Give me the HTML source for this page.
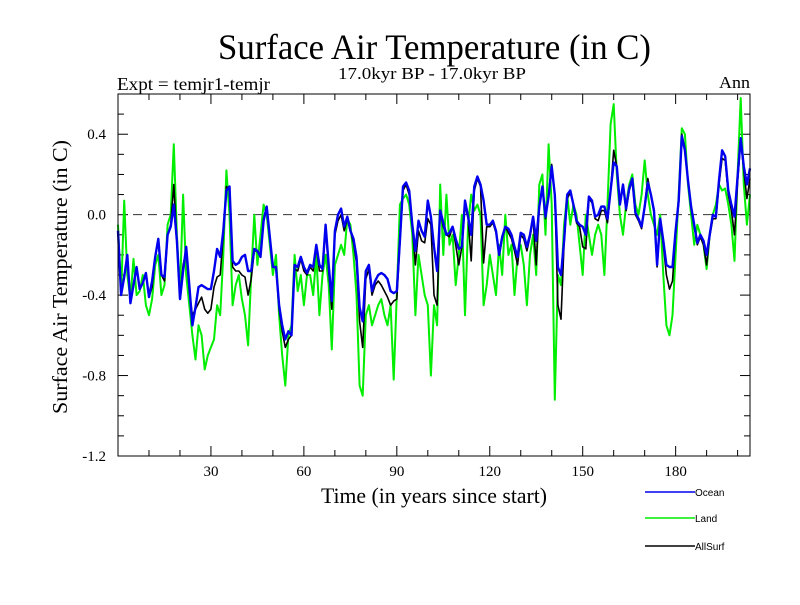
<!DOCTYPE html>
<html><head><meta charset="utf-8"><style>
body{margin:0;background:#fff;width:800px;height:600px;overflow:hidden}
svg text{font-family:"Liberation Serif",serif}
</style></head><body>
<svg id="chart" width="800" height="600" xmlns="http://www.w3.org/2000/svg">
<text x="218" y="59" font-size="36" textLength="433" lengthAdjust="spacingAndGlyphs">Surface Air Temperature (in C)</text>
<text x="338" y="79" font-size="17" textLength="188" lengthAdjust="spacingAndGlyphs">17.0kyr BP - 17.0kyr BP</text>
<text x="117" y="90" font-size="18" textLength="153" lengthAdjust="spacingAndGlyphs">Expt = temjr1-temjr</text>
<text x="719" y="88" font-size="17" textLength="31" lengthAdjust="spacingAndGlyphs">Ann</text>
<text transform="translate(67,277) rotate(-90)" font-size="21" text-anchor="middle" textLength="274" lengthAdjust="spacingAndGlyphs">Surface Air Temperature (in C)</text>
<text x="321" y="503" font-size="22" textLength="226" lengthAdjust="spacingAndGlyphs">Time (in years since start)</text>
<g id="axes"></g>
<g id="series"></g>
<rect x="118" y="94" width="632" height="362" fill="none" stroke="#000" stroke-width="1"/>
<g id="legend"></g>
</svg>
<script>
const yTicks=[0.4,0.0,-0.4,-0.8,-1.2];
const yTickLabels=["0.4","0.0","-0.4","-0.8","-1.2"];
const xTicks=[30,60,90,120,150,180];
const oceanValues=[-0.08,-0.40,-0.31,-0.20,-0.44,-0.35,-0.26,-0.37,-0.34,-0.29,-0.41,-0.33,-0.21,-0.12,-0.30,-0.31,-0.10,-0.06,0.05,-0.13,-0.42,-0.28,-0.16,-0.35,-0.55,-0.46,-0.36,-0.35,-0.36,-0.37,-0.37,-0.28,-0.17,-0.21,-0.08,0.12,0.14,-0.23,-0.25,-0.24,-0.21,-0.20,-0.28,-0.28,-0.17,-0.18,-0.21,-0.03,0.04,-0.11,-0.26,-0.26,-0.45,-0.55,-0.62,-0.58,-0.60,-0.25,-0.26,-0.21,-0.26,-0.29,-0.25,-0.26,-0.15,-0.25,-0.27,-0.05,-0.25,-0.43,-0.08,0.00,0.03,-0.06,-0.01,-0.08,-0.12,-0.21,-0.46,-0.53,-0.28,-0.25,-0.38,-0.33,-0.30,-0.29,-0.30,-0.32,-0.38,-0.39,-0.38,-0.13,0.14,0.16,0.12,-0.05,-0.18,-0.03,-0.08,-0.11,0.07,-0.01,-0.16,-0.28,0.02,-0.04,-0.10,-0.09,-0.06,-0.12,-0.17,-0.16,0.07,-0.01,-0.10,0.14,0.19,0.15,0.07,-0.05,-0.05,-0.03,-0.08,-0.20,-0.11,-0.06,-0.07,-0.10,-0.16,-0.21,-0.09,-0.10,-0.16,-0.10,-0.01,-0.13,0.04,0.14,-0.01,0.09,0.24,0.10,-0.26,-0.30,-0.13,0.10,0.12,0.05,-0.03,-0.05,-0.06,-0.10,0.09,0.07,-0.01,0.00,0.04,0.04,-0.02,0.12,0.26,0.24,0.05,0.15,0.03,0.13,0.18,0.01,-0.02,-0.06,0.04,0.16,0.10,0.02,-0.25,-0.02,-0.13,-0.25,-0.26,-0.26,-0.08,0.07,0.39,0.32,0.17,0.04,-0.05,-0.14,-0.10,-0.13,-0.20,-0.10,0.00,-0.01,0.17,0.32,0.29,0.12,0.05,-0.01,0.19,0.38,0.24,0.15,0.23];
const landValues=[-0.05,-0.4,0.07,-0.3,-0.42,-0.22,-0.4,-0.38,-0.3,-0.45,-0.5,-0.42,-0.25,-0.2,-0.4,-0.35,-0.05,0.0,0.35,-0.1,-0.38,0.1,-0.3,-0.45,-0.6,-0.72,-0.55,-0.6,-0.77,-0.7,-0.66,-0.62,-0.45,-0.5,-0.2,0.22,0.0,-0.45,-0.35,-0.3,-0.42,-0.5,-0.65,-0.3,0.0,-0.25,-0.1,0.05,0.0,-0.15,-0.3,-0.2,-0.5,-0.7,-0.85,-0.6,-0.55,-0.2,-0.38,-0.3,-0.45,-0.3,-0.3,-0.4,-0.2,-0.5,-0.3,-0.2,-0.35,-0.67,-0.25,-0.2,-0.15,-0.2,-0.02,-0.05,-0.2,-0.4,-0.85,-0.9,-0.5,-0.45,-0.55,-0.5,-0.45,-0.42,-0.5,-0.55,-0.45,-0.82,-0.4,0.05,0.08,0.1,0.05,-0.1,-0.5,-0.2,-0.3,-0.4,-0.45,-0.8,-0.45,-0.55,0.15,-0.2,0.1,-0.15,-0.1,-0.35,-0.2,0.0,-0.5,-0.05,0.1,0.02,0.05,0.0,-0.45,-0.35,-0.2,-0.3,-0.4,-0.15,-0.3,0.0,-0.2,-0.15,-0.4,-0.2,-0.15,-0.25,-0.45,-0.2,-0.1,-0.3,0.15,0.2,-0.1,0.35,0.05,-0.92,-0.3,-0.35,-0.05,0.1,-0.05,0.05,0.0,-0.15,-0.3,0.0,-0.1,-0.2,-0.1,-0.05,-0.1,-0.3,0.05,0.45,0.55,0.2,0.0,-0.1,0.05,0.15,0.2,0.05,0.0,0.1,0.27,0.1,0.0,-0.05,-0.1,0.0,-0.3,-0.55,-0.6,-0.5,-0.2,0.1,0.43,0.4,0.15,0.0,-0.15,-0.05,-0.1,-0.15,-0.27,-0.1,0.0,0.05,0.15,0.12,0.13,0.05,-0.05,-0.23,0.2,0.58,0.15,-0.05,0.1];
const allSurfValues=[-0.08,-0.40,-0.31,-0.20,-0.44,-0.35,-0.26,-0.37,-0.34,-0.29,-0.41,-0.36,-0.21,-0.13,-0.30,-0.33,-0.10,-0.05,0.15,-0.13,-0.42,-0.25,-0.18,-0.38,-0.50,-0.47,-0.44,-0.41,-0.47,-0.49,-0.47,-0.36,-0.31,-0.30,-0.10,0.14,0.12,-0.26,-0.28,-0.28,-0.30,-0.31,-0.40,-0.32,-0.18,-0.18,-0.20,-0.02,0.04,-0.11,-0.26,-0.26,-0.47,-0.58,-0.66,-0.62,-0.60,-0.27,-0.28,-0.22,-0.28,-0.30,-0.26,-0.28,-0.16,-0.28,-0.28,-0.07,-0.28,-0.47,-0.10,-0.03,0.00,-0.08,-0.02,-0.08,-0.14,-0.24,-0.53,-0.66,-0.32,-0.27,-0.40,-0.35,-0.33,-0.35,-0.38,-0.41,-0.45,-0.43,-0.42,-0.14,0.12,0.15,0.10,-0.06,-0.25,-0.08,-0.13,-0.14,-0.02,-0.05,-0.40,-0.45,0.02,-0.06,-0.10,-0.11,-0.06,-0.15,-0.25,-0.16,0.05,-0.02,-0.23,0.12,0.18,0.14,-0.24,-0.06,-0.06,-0.04,-0.09,-0.20,-0.12,-0.06,-0.09,-0.12,-0.18,-0.25,-0.10,-0.12,-0.18,-0.11,-0.02,-0.25,0.04,0.14,-0.02,0.10,0.25,0.10,-0.45,-0.52,-0.14,0.08,0.11,0.05,-0.04,-0.06,-0.16,-0.17,0.08,0.06,-0.02,-0.03,0.02,0.02,-0.04,0.12,0.32,0.24,0.05,0.14,0.02,0.12,0.17,0.00,-0.03,-0.07,0.05,0.18,0.10,0.01,-0.26,-0.03,-0.15,-0.30,-0.37,-0.33,-0.10,0.06,0.40,0.33,0.17,0.03,-0.06,-0.15,-0.11,-0.15,-0.25,-0.11,-0.02,-0.02,0.15,0.28,0.27,0.10,0.02,-0.10,0.16,0.37,0.22,0.08,0.18];

const X0=118,X1=750,Y0=94,Y1=456,XMAX=204,YMIN=-1.2,YMAX=0.6;
const xs=v=>X0+(v/XMAX)*(X1-X0);
const ys=v=>Y1-(v-YMIN)/(YMAX-YMIN)*(Y1-Y0);
const NS="http://www.w3.org/2000/svg";
function mk(tag,parent){const e=document.createElementNS(NS,tag);parent.appendChild(e);return e;}
const axes=document.getElementById('axes');
for(let k=-12;k<=6;k++){
  const v=k/10,y=ys(v),major=(k%4===0);
  const L=major?10:6;
  const t=mk('line',axes);
  
  
  t.setAttribute('x1',X0);t.setAttribute('x2',X0+L);t.setAttribute('y1',y);t.setAttribute('y2',y);t.setAttribute('stroke','#000');
  const r=mk('line',axes);
  
  
  r.setAttribute('x1',X1);r.setAttribute('x2',X1-L);r.setAttribute('y1',y);r.setAttribute('y2',y);r.setAttribute('stroke','#000');
}
yTicks.forEach((v,i)=>{
  const t=mk('text',axes);
  
  
  t.setAttribute('x',X0-12);t.setAttribute('y',ys(v)+5);t.setAttribute('font-size','15');t.setAttribute('text-anchor','end');
  t.textContent=yTickLabels[i];
});
for(let v=10;v<XMAX;v+=10){
  const x=xs(v),major=(v%30===0),L=major?10:6;
  const b=mk('line',axes);
  
  
  b.setAttribute('x1',x);b.setAttribute('x2',x);b.setAttribute('y1',Y1);b.setAttribute('y2',Y1-L);b.setAttribute('stroke','#000');
  const t=mk('line',axes);
  
  
  t.setAttribute('x1',x);t.setAttribute('x2',x);t.setAttribute('y1',Y0);t.setAttribute('y2',Y0+L);t.setAttribute('stroke','#000');
}
xTicks.forEach(v=>{
  const t=mk('text',axes);
  
  
  t.setAttribute('x',xs(v));t.setAttribute('y',Y1+20);t.setAttribute('font-size','15');t.setAttribute('text-anchor','middle');
  t.textContent=String(v);
});
const zl=mk('line',axes);


zl.setAttribute('x1',X0);zl.setAttribute('x2',X1);zl.setAttribute('y1',ys(0));zl.setAttribute('y2',ys(0));
zl.setAttribute('stroke','#333');zl.setAttribute('stroke-dasharray','9,6');zl.setAttribute('stroke-width','1');

const series=document.getElementById('series');
function drawLine(vals,color,w,name){
  const p=mk('polyline',series);
  
  
  p.setAttribute('points',vals.map((v,i)=>xs(i).toFixed(1)+','+ys(v).toFixed(1)).join(' '));
  p.setAttribute('fill','none');p.setAttribute('stroke',color);p.setAttribute('stroke-width',w);p.setAttribute('stroke-linejoin','round');
}
drawLine(landValues,'#00ee00',2,'land-line');
drawLine(allSurfValues,'#000000',1.6,'allsurf-line');
drawLine(oceanValues,'#0000ee',2.4,'ocean-line');

const legend=document.getElementById('legend');
const legNames=['Ocean','Land','AllSurf'],legColors=['#0000ee','#00ee00','#000000'],legY=[492,518,546];
legNames.forEach((n,i)=>{
  const l=mk('line',legend);
  
  
  l.setAttribute('x1',645);l.setAttribute('x2',695);l.setAttribute('y1',legY[i]);l.setAttribute('y2',legY[i]);
  l.setAttribute('stroke',legColors[i]);l.setAttribute('stroke-width','1.6');
  const t=mk('text',legend);
  
  
  t.setAttribute('x',695);t.setAttribute('y',legY[i]+4);t.setAttribute('font-size','10');
  t.setAttribute('style','font-family:"Liberation Sans",sans-serif');
  t.textContent=n;
});
</script>
</body></html>
